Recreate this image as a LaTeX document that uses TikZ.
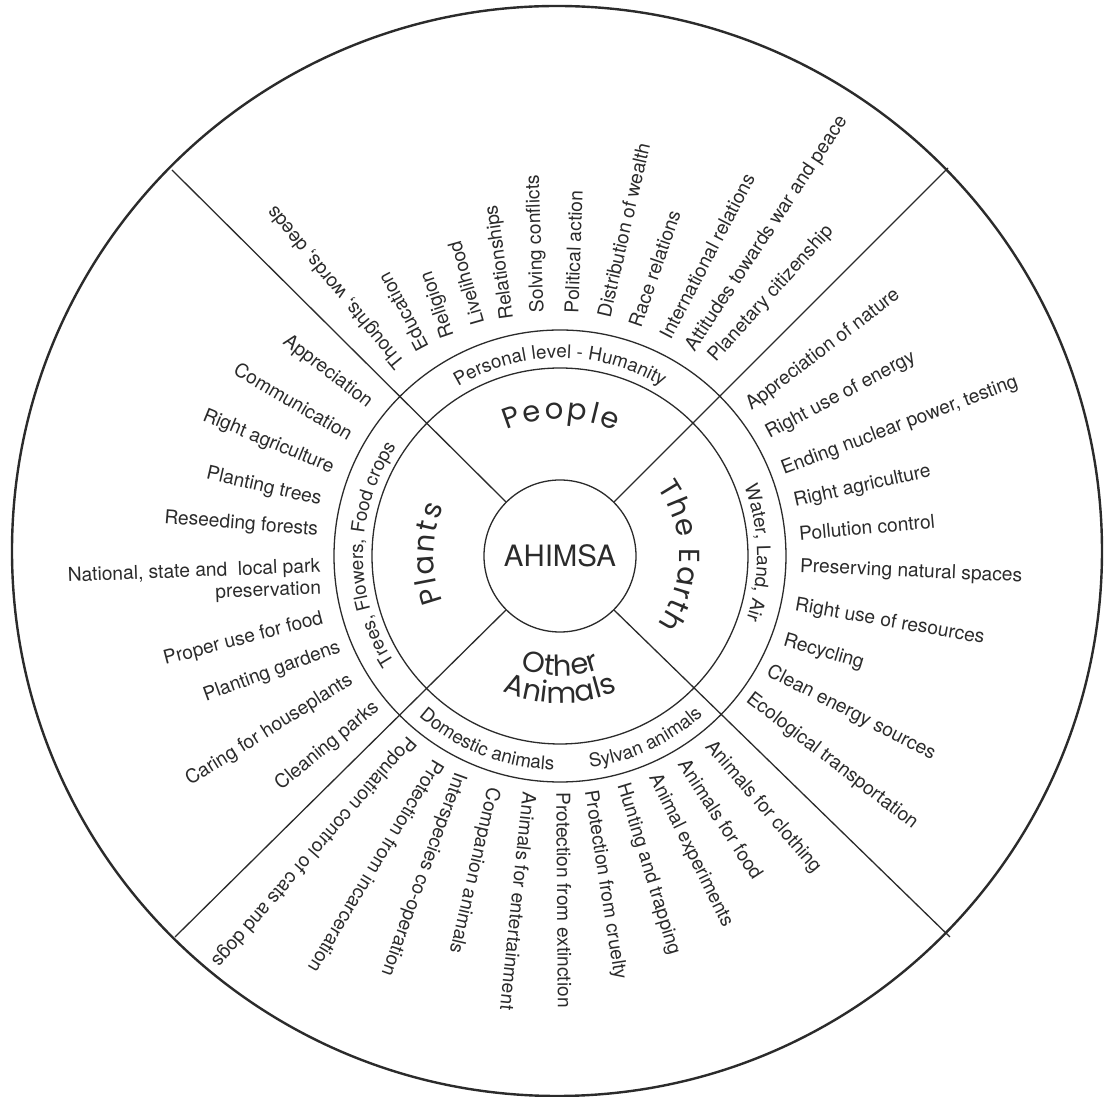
\documentclass[tikz,border=0pt]{standalone}
\usepackage{fontspec}
\setmainfont{TeX Gyre Heros}
\newfontfamily\catfont{Poppins}
\usetikzlibrary{decorations.text}
\definecolor{ink}{HTML}{2B2B2B}
\newcommand{\itemfont}{\fontsize{9.6}{11}\selectfont}
\newcommand{\ringfont}{\fontsize{9.4}{11}\selectfont}
\newcommand{\catsize}{\catfont\fontsize{14.5}{16}\selectfont}

\begin{document}
\begin{tikzpicture}[x=0.5pt,y=0.5pt,
  line/.style={draw=ink, line width=0.65pt},
  rim/.style={draw=ink, line width=1.2pt},
  itm/.style={anchor=mid west, inner sep=0pt, text=ink, font=\itemfont},
  itmr/.style={anchor=mid east, inner sep=0pt, text=ink, font=\itemfont},
  ringtext/.style={decorate, decoration={text along path, text align=center,
    text color=ink, text={|\ringfont|#1}}},
  cattext/.style={decorate, decoration={text along path, text align=fit to path,
    text color=ink, text={|\catsize|#1}}}]

\fill[white] (-560,-541) rectangle (545,556);
\useasboundingbox (-560,-541) rectangle (545,556);

 \draw[rim] (-3,5) circle[radius=545];
 \draw[line] (0,0) circle[radius=188];
 \draw[line] (0,0) circle[radius=226];
 \node[draw=ink, line width=0.65pt, circle, minimum size=76pt, inner sep=0pt,
   text=ink, font=\fontsize{14.7}{16}\selectfont] (ahimsa) at (0,0) {AHIMSA};

 \coordinate (ne) at (388,388);
 \coordinate (nw) at (-388,386);
 \coordinate (se) at (390,-381);
 \coordinate (sw) at (-385,-381);
  \draw[line] (ahimsa.45) -- (ne);
  \draw[line] (ahimsa.135) -- (nw);
  \draw[line] (ahimsa.-45) -- (se);
  \draw[line] (ahimsa.-135) -- (sw);

 \path[cattext={People}] (113:137) arc[start angle=113, end angle=66, radius=137];
 \path[cattext={The Earth}] (35:119) arc[start angle=35, end angle=-35, radius=119];
 \path[cattext={Plants}] (201:126) arc[start angle=201, end angle=157, radius=126];
 \path[cattext={Other}] (-109:120) arc[start angle=-109, end angle=-71, radius=120];
 \path[cattext={Animals}] (-113:147) arc[start angle=-113, end angle=-67, radius=147];

 \path[ringtext={Personal level - Humanity}] (130:198) arc[start angle=130, end angle=50, radius=198];
 \path[ringtext={Water, Land, Air}] (40:197) arc[start angle=40, end angle=-38, radius=197];
 \path[ringtext={Trees, Flowers, Food crops}] (235:197) arc[start angle=235, end angle=124, radius=197];
 \path[ringtext={Domestic animals}] (-150:214) arc[start angle=-150, end angle=-73, radius=214];
 \path[ringtext={Sylvan animals}] (-100:214) arc[start angle=-100, end angle=-30, radius=214];

 \node[itm, rotate=129.5] (h1) at (129.9:247) {Thoughts, words, deeds};
 \node[itm, rotate=118] (h2) at (123.2:247) {Education};
 \node[itm, rotate=109] (h3) at (116.9:245) {Religion};
 \node[itm, rotate=106] (h4) at (109.2:245) {Livelihood};
 \node[itm, rotate=98] (h5) at (102.4:242) {Relationships};
 \node[itm, rotate=92] (h6) at (95.1:244) {Solving conflicts};
 \node[itm, rotate=88] (h7) at (86.9:243) {Political action};
 \node[itm, rotate=77] (h8) at (79.3:243) {Distribution of wealth};
 \node[itm, rotate=71] (h9) at (71.6:241) {Race relations};
 \node[itm, rotate=62.5] (h10) at (64:242) {International relations};
 \node[itm, rotate=56.5] (h11) at (57.8:244) {Attitudes towards war and peace};
 \node[itm, rotate=48] (h12) at (52.3:248) {Planetary citizenship};

 \node[itm, rotate=37.3] (e1) at (38.4:240) {Appreciation of nature};
 \node[itm, rotate=28] (e2) at (30.5:240) {Right use of energy};
 \node[itm, rotate=20.6] (e3) at (21.2:238) {Ending nuclear power, testing};
 \node[itm, rotate=12.5] (e4) at (13.1:240) {Right agriculture};
 \node[itm, rotate=5.3] (e5) at (5:240) {Pollution control};
 \node[itm, rotate=-2.5] (e6) at (-2.6:240) {Preserving natural spaces};
 \node[itm, rotate=-10] (e7) at (-11.8:240) {Right use of resources};
 \node[itm, rotate=-16.5] (e8) at (-20.6:239) {Recycling};
 \node[itm, rotate=-27] (e9) at (-28.8:237) {Clean energy sources};
 \node[itm, rotate=-37.5] (e10) at (-36.8:235) {Ecological transportation};

 \node[itmr, rotate=-37.4] (t1) at (141.3:243) {Appreciation};
 \node[itmr, rotate=-30.3] (t2) at (150.4:241) {Communication};
 \node[itmr, rotate=-22.4] (t3) at (158.9:243) {Right agriculture};
 \node[itmr, rotate=-12.9] (t4) at (166.8:245) {Planting trees};
 \node[itmr, rotate=-4.6] (t5) at (173.9:243) {Reseeding forests};
 \node[itmr, anchor=east, rotate=2.2, align=right] (t6) at (185.3:240)
   {National, state and \ local park\\preservation};
 \node[itmr, rotate=14.7] (t7) at (194.7:245) {Proper use for food};
 \node[itmr, rotate=20.1] (t8) at (202.4:238) {Planting gardens};
 \node[itmr, rotate=32.2] (t9) at (210.4:242) {Caring for houseplants};
 \node[itmr, rotate=39.6] (t10) at (219.1:236) {Cleaning parks};

 \node[itm, rotate=-131] (a1) at (-129.1:235) {Population control of cats and dogs};
 \node[itm, rotate=-121] (a2) at (-120.8:238) {Protection from incarceration};
 \node[itm, rotate=-110] (a3) at (-114.7:239) {Interspecies co-operation};
 \node[itm, rotate=-103] (a4) at (-106.1:241) {Companion animals};
 \node[itm, rotate=-96] (a5) at (-97.7:238) {Animals for entertainment};
 \node[itm, rotate=-89.6] (a6) at (-89.6:236) {Protection from extinction};
 \node[itm, rotate=-81] (a7) at (-82.7:236) {Protection from cruelty};
 \node[itm, rotate=-73] (a8) at (-74.7:236) {Hunting and trapping};
 \node[itm, rotate=-63.7] (a9) at (-66.9:238) {Animal experiments};
 \node[itm, rotate=-57] (a10) at (-59.4:239) {Animals for food};
 \node[itm, rotate=-49.3] (a11) at (-51.6:239) {Animals for clothing};
\end{tikzpicture}
\end{document}
